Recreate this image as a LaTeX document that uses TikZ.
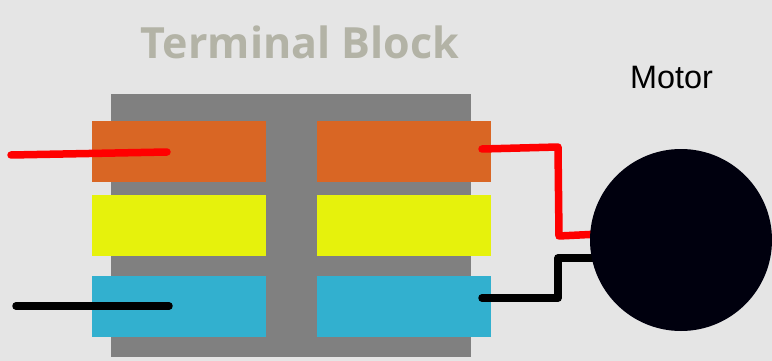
\documentclass[tikz,border=0pt]{standalone}
\usepackage{xcolor}
\usepackage{fontspec}
\setmainfont{Liberation Sans}
\newfontfamily\titlefont{Open Sans}
\usetikzlibrary{calc}
\definecolor{bg}{HTML}{E5E5E5}
\definecolor{body}{HTML}{808080}
\definecolor{orangepad}{HTML}{D96624}
\definecolor{yellowpad}{HTML}{E6F20C}
\definecolor{bluepad}{HTML}{32B0CF}
\definecolor{muted}{HTML}{B3B3A6}
\definecolor{motorfill}{HTML}{00000E}
\definecolor{redwire}{HTML}{FF0000}
\tikzset{
  pad/.style={minimum width=174pt, minimum height=61pt, inner sep=0pt, outer sep=0pt},
  wire/.style={line width=7.5pt, line cap=round, line join=round},
  lab/.style={text=black, font=\fontsize{32.4pt}{32.4pt}\selectfont},
  head/.style={text=muted, font=\titlefont\bfseries\fontsize{43pt}{43pt}\selectfont},
}
\begin{document}
\begin{tikzpicture}[x=1pt, y=-1pt]
  \fill[bg] (0,0) rectangle (772,361);
  \useasboundingbox (0,0) rectangle (772,361);
  \fill[body] (111,94) rectangle (471,357);
  % left and right rows
  \node[pad, fill=orangepad] (OL) at (179,151.5) {};
  \node[pad, fill=yellowpad] (YL) at (179,225.5) {};
  \node[pad, fill=bluepad] (BL) at (179,306.5) {};
  \node[pad, fill=orangepad] (OR) at (404,151.5) {};
  \node[pad, fill=yellowpad] (YR) at (404,225.5) {};
  \node[pad, fill=bluepad] (BR) at (404,306.5) {};
  \node[head] (title) at (300,42.5) {Terminal Block};
  \node[lab] (motorlab) at (671.5,78) {Motor};
  \coordinate (R1) at (11,155);
  \coordinate (R2) at (167,152);
  \coordinate (R3) at (482,149);
  \coordinate (K1) at (16,306);
  \coordinate (K2) at (169,306);
  \coordinate (K3) at (482,298);
  \draw[wire, draw=redwire] (R1)--(R2);
  \draw[wire, draw=black] (K1)--(K2);
  \draw[wire, draw=redwire] (R3)--(558,147)--(559,236)--(600,234);
  \draw[wire, draw=black] (K3)--(558,298)--(558,258)--(600,258);
  \node[circle, fill=motorfill, minimum size=182pt, inner sep=0pt] (motor) at (681,240) {};
\end{tikzpicture}
\end{document}
